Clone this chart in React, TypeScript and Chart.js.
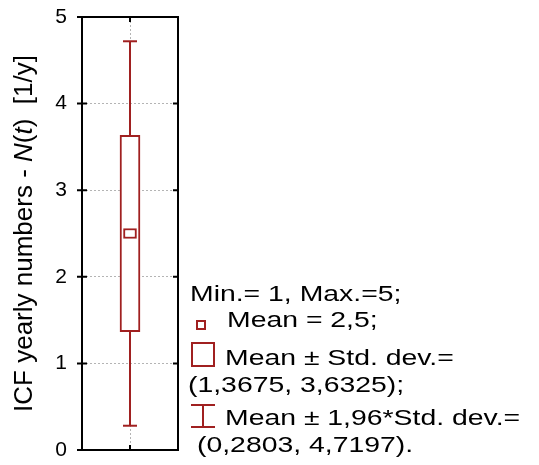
import { useEffect, useRef } from 'react';
import { Chart, registerables } from 'chart.js';

Chart.register(...registerables);

// ---- data ----
const categories = ['N(t)'];
const xPositions = [1];
const meanValues = [2.5];
const sdLow = [1.3675];
const sdHigh = [3.6325];
const ciLow = [0.2803];
const ciHigh = [4.7197];
const minValues = [1];
const maxValues = [5];
const yTickValues = [0, 1, 2, 3, 4, 5];

const RED = 'rgb(160,32,32)';
const GRID = '#b4b4b4';
const FONT = '"Liberation Sans", Arial, sans-serif';

const fmt = (v: number) => String(v).replace('.', ',');

const legendLines = [
  `Min.= ${fmt(minValues[0])}, Max.=${fmt(maxValues[0])};`,
  `Mean = ${fmt(meanValues[0])};`,
  `Mean \u00b1 Std. dev.=`,
  `(${fmt(sdLow[0])}, ${fmt(sdHigh[0])});`,
  `Mean \u00b1 1,96*Std. dev.=`,
  `(${fmt(ciLow[0])}, ${fmt(ciHigh[0])}).`,
];

const titleSegments: [string, boolean][] = [
  ['ICF yearly numbers - ', false],
  ['N', true],
  ['(', false],
  ['t', true],
  [')  [1/y]', false],
];

const decoPlugin = {
  id: 'deco',
  afterDraw(chart: any) {
    const ctx = chart.ctx as CanvasRenderingContext2D;
    const { left, right, top, bottom } = chart.chartArea;
    const ys = chart.scales.y;
    const xs = chart.scales.x;
    ctx.save();
    // frame
    ctx.strokeStyle = '#000';
    ctx.lineWidth = 2;
    ctx.strokeRect(left, top, right - left, bottom - top);
    // ticks
    ctx.beginPath();
    yTickValues.forEach((v) => {
      const py = ys.getPixelForValue(v);
      ctx.moveTo(left - 5, py);
      ctx.lineTo(left + 5, py);
      ctx.moveTo(right - 5, py);
      ctx.lineTo(right, py);
    });
    xPositions.forEach((v) => {
      const px = xs.getPixelForValue(v);
      ctx.moveTo(px, top);
      ctx.lineTo(px, top + 5);
      ctx.moveTo(px, bottom - 5);
      ctx.lineTo(px, bottom);
    });
    ctx.stroke();

    // y title (rotated, mixed italics)
    ctx.fillStyle = '#000';
    ctx.textBaseline = 'alphabetic';
    ctx.textAlign = 'left';
    const size = 26;
    let total = 0;
    titleSegments.forEach(([t, it]) => {
      ctx.font = `${it ? 'italic ' : ''}${size}px ${FONT}`;
      total += ctx.measureText(t).width;
    });
    ctx.save();
    ctx.translate(32, (top + bottom) / 2);
    ctx.rotate(-Math.PI / 2);
    let cx = -total / 2;
    titleSegments.forEach(([t, it]) => {
      ctx.font = `${it ? 'italic ' : ''}${size}px ${FONT}`;
      ctx.fillText(t, cx, 0);
      cx += ctx.measureText(t).width;
    });
    ctx.restore();

    // legend
    const pos: [number, number][] = [
      [190, 301],
      [227, 327],
      [225, 365],
      [188, 392],
      [225, 425],
      [197, 452],
    ];
    ctx.font = `22px ${FONT}`;
    legendLines.forEach((t, i) => {
      ctx.save();
      ctx.translate(pos[i][0], pos[i][1]);
      ctx.scale(1.29, 1);
      ctx.fillText(t, 0, 0);
      ctx.restore();
    });
    ctx.strokeStyle = RED;
    ctx.lineWidth = 2;
    ctx.strokeRect(197, 321, 8, 8);
    ctx.strokeRect(192, 343, 22, 23);
    ctx.beginPath();
    ctx.moveTo(191, 405);
    ctx.lineTo(215, 405);
    ctx.moveTo(203, 405);
    ctx.lineTo(203, 427);
    ctx.moveTo(191, 427);
    ctx.lineTo(215, 427);
    ctx.stroke();
    ctx.restore();
  },
};

export default function App() {
  const ref = useRef<HTMLCanvasElement | null>(null);
  useEffect(() => {
    if (!ref.current) return;
    const meanHalf = 0.0575;
    const chart = new Chart(ref.current, {
      type: 'bar',
      data: {
        labels: categories,
        datasets: [
          {
            type: 'bar',
            label: 'mean',
            data: xPositions.map((x, i) => ({ x, y: [meanValues[i] - meanHalf, meanValues[i] + meanHalf] })) as any,
            backgroundColor: '#fff',
            borderColor: RED,
            borderWidth: 2,
            borderSkipped: false,
            barThickness: 13,
            grouped: false,
            order: 0,
          } as any,
          {
            type: 'bar',
            label: 'sd',
            data: xPositions.map((x, i) => ({ x, y: [sdLow[i], sdHigh[i]] })) as any,
            backgroundColor: '#fff',
            borderColor: RED,
            borderWidth: 2,
            borderSkipped: false,
            barThickness: 20,
            grouped: false,
            order: 3,
          } as any,
          {
            type: 'line',
            label: 'whiskerLow',
            data: xPositions.flatMap((x, i) => [
              { x, y: ciLow[i] },
              { x, y: sdLow[i] },
            ]),
            borderColor: RED,
            borderWidth: 2,
            pointRadius: 0,
            order: 2,
          } as any,
          {
            type: 'line',
            label: 'whiskerHigh',
            data: xPositions.flatMap((x, i) => [
              { x, y: sdHigh[i] },
              { x, y: ciHigh[i] },
            ]),
            borderColor: RED,
            borderWidth: 2,
            pointRadius: 0,
            order: 2,
          } as any,
          {
            type: 'scatter',
            label: 'caps',
            data: xPositions.flatMap((x, i) => [
              { x, y: ciLow[i] },
              { x, y: ciHigh[i] },
            ]),
            pointStyle: 'line',
            pointRadius: 7,
            pointBorderWidth: 2,
            borderColor: RED,
            backgroundColor: RED,
            showLine: false,
            order: 1,
          } as any,
        ],
      },
      options: {
        animation: false,
        responsive: false,
        events: [],
        layout: { padding: { left: 0, right: 361, top: 17, bottom: 14 } },
        plugins: { legend: { display: false }, tooltip: { enabled: false } },
        scales: {
          x: {
            type: 'linear',
            min: 0,
            max: 2,
            offset: false,
            ticks: { display: false, stepSize: 1 },
            grid: {
              offset: false,
              color: (c: any) => (c.tick && c.tick.value === 1 ? GRID : 'rgba(0,0,0,0)'),
              drawTicks: false,
              lineWidth: 1,
            },
            border: { display: false, dash: [2, 2] },
            afterFit: (s: any) => {
              s.height = 0;
            },
          },
          y: {
            type: 'linear',
            min: 0,
            max: 5,
            ticks: {
              stepSize: 1,
              padding: 15,
              color: '#000',
              font: { family: FONT, size: 21, lineHeight: 0 },
            },
            grid: {
              color: (c: any) =>
                c.tick && c.tick.value > 0 && c.tick.value < 5 ? GRID : 'rgba(0,0,0,0)',
              drawTicks: false,
              lineWidth: 1,
            },
            border: { display: false, dash: [2, 2] },
            afterFit: (s: any) => {
              s.width = 82;
            },
          },
        },
      } as any,
      plugins: [decoPlugin],
    });
    return () => chart.destroy();
  }, []);
  return (
    <div style={{ position: 'fixed', left: 0, top: 0, width: 539, height: 465, background: '#fff' }}>
      <canvas ref={ref} width={539} height={465} style={{ width: 539, height: 465, display: 'block' }} />
    </div>
  );
}
